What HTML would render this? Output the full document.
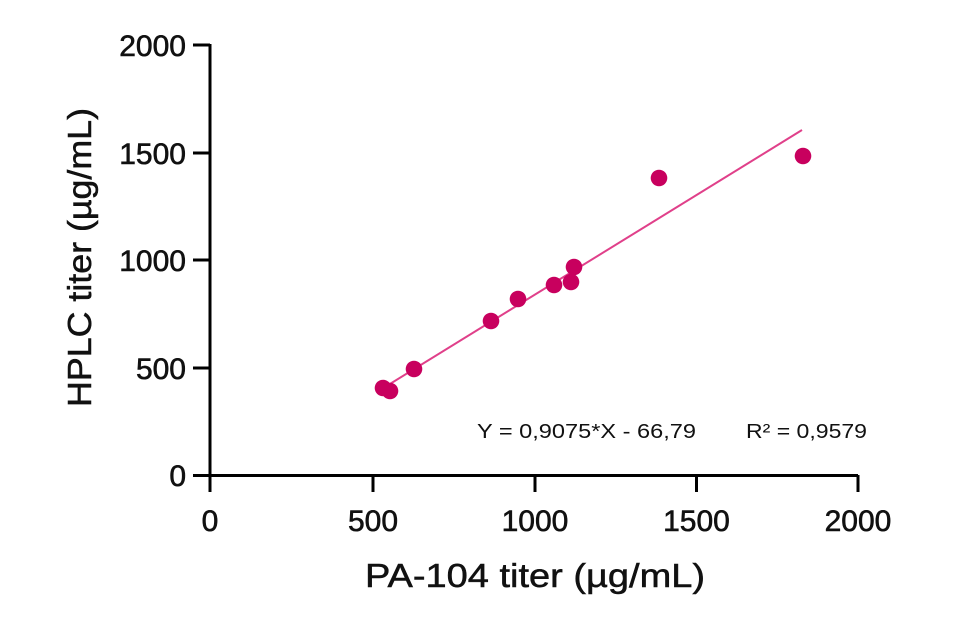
<!DOCTYPE html>
<html><head><meta charset="utf-8"><style>html,body{margin:0;padding:0;background:#fff}</style></head>
<body>
<svg width="955" height="613" xmlns="http://www.w3.org/2000/svg" font-family="Liberation Sans, Arial, sans-serif">
<rect width="955" height="613" fill="#fff"/>
<g stroke="#000" stroke-width="3" fill="none">
<line x1="210" y1="44" x2="210" y2="492"/>
<line x1="193" y1="475.5" x2="858" y2="475.5"/>
<line x1="193" y1="45" x2="210" y2="45"/>
<line x1="193" y1="153" x2="210" y2="153"/>
<line x1="193" y1="260" x2="210" y2="260"/>
<line x1="193" y1="368" x2="210" y2="368"/>
<line x1="373" y1="475" x2="373" y2="492"/>
<line x1="535" y1="475" x2="535" y2="492"/>
<line x1="696.5" y1="475" x2="696.5" y2="492"/>
<line x1="858" y1="475" x2="858" y2="492"/>
</g>
<g font-size="30" fill="#111" stroke="#111" stroke-width="0.6" text-anchor="end">
<text x="186" y="56">2000</text>
<text x="186" y="164">1500</text>
<text x="186" y="271">1000</text>
<text x="186" y="379">500</text>
<text x="186" y="486">0</text>
</g>
<g font-size="30" fill="#111" stroke="#111" stroke-width="0.6" text-anchor="middle">
<text x="210" y="531">0</text>
<text x="373" y="531">500</text>
<text x="535" y="531">1000</text>
<text x="696.5" y="531">1500</text>
<text x="858" y="531">2000</text>
</g>
<text x="365" y="587" font-size="33" fill="#111" stroke="#111" stroke-width="0.5" textLength="340" lengthAdjust="spacingAndGlyphs">PA-104 titer  (µg/mL)</text>
<text transform="translate(91,407) rotate(-90)" font-size="33" fill="#111" stroke="#111" stroke-width="0.5" textLength="299" lengthAdjust="spacingAndGlyphs">HPLC titer (µg/mL)</text>
<text x="477" y="438" font-size="20" fill="#111" textLength="219" lengthAdjust="spacingAndGlyphs">Y = 0,9075*X - 66,79</text>
<text x="746" y="438" font-size="20" fill="#111" textLength="121" lengthAdjust="spacingAndGlyphs">R² = 0,9579</text>
<line x1="385" y1="387" x2="802" y2="130" stroke="#e0408a" stroke-width="2"/>
<g fill="#c8005e">
<circle cx="383" cy="388" r="8.3"/>
<circle cx="390" cy="391" r="8.3"/>
<circle cx="414" cy="369" r="8.3"/>
<circle cx="491" cy="321" r="8.3"/>
<circle cx="518" cy="299" r="8.3"/>
<circle cx="554" cy="285" r="8.3"/>
<circle cx="571" cy="282" r="8.3"/>
<circle cx="574" cy="267" r="8.3"/>
<circle cx="659" cy="178" r="8.3"/>
<circle cx="803" cy="156" r="8.3"/>
</g>
</svg>
</body></html>
